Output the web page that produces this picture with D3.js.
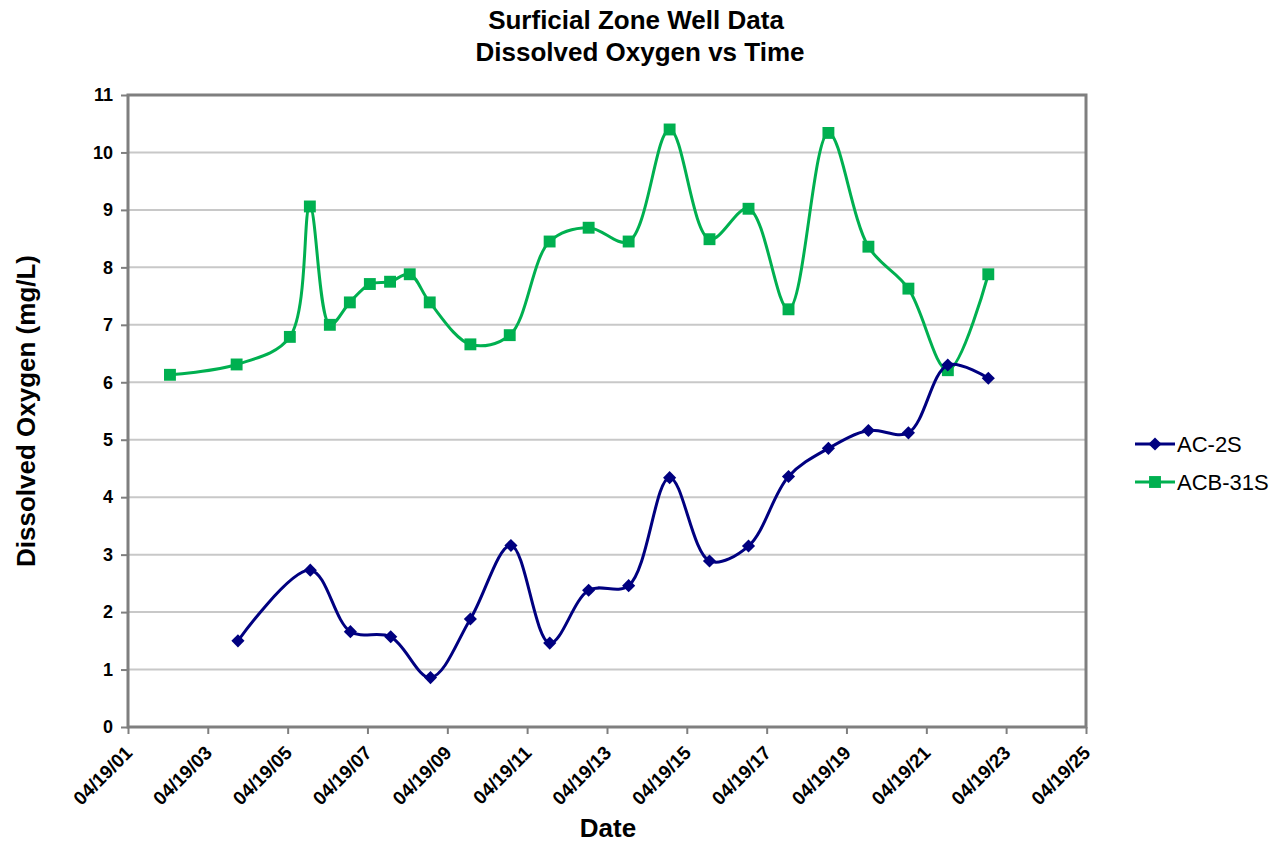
<!DOCTYPE html>
<html>
<head>
<meta charset="utf-8">
<script src="https://cdn.jsdelivr.net/npm/d3@7"></script>
<style>
  html, body { margin: 0; padding: 0; background: #fff; }
  svg { display: block; font-family: "Liberation Sans", Arial, sans-serif; }
</style>
</head>
<body>
<svg id="chart" width="1286" height="846"></svg>
<script>
// Sampling dates and dissolved oxygen readings (mg/L) for each well
const ac2sDates = [
  "2004-01-20", "2005-11-12", "2006-11-14", "2007-11-18", "2008-11-16",
  "2009-11-16", "2010-11-22", "2011-11-12", "2012-11-02", "2013-11-03",
  "2014-11-13", "2015-11-13", "2016-11-04", "2017-11-05", "2018-11-05",
  "2019-11-06", "2020-11-06", "2021-11-01", "2022-11-07"
];
const ac2sValues = [
  1.50, 2.73, 1.66, 1.57, 0.86,
  1.88, 3.16, 1.46, 2.38, 2.46,
  4.34, 2.89, 3.15, 4.36, 4.85,
  5.16, 5.12, 6.30, 6.07
];

const acb31sDates = [
  "2002-05-08", "2004-01-08", "2005-05-09", "2005-11-08", "2006-05-10",
  "2006-11-09", "2007-05-11", "2007-11-12", "2008-05-10", "2008-11-09",
  "2009-11-16", "2010-11-11", "2011-11-11", "2012-11-02", "2013-11-03",
  "2014-11-13", "2015-11-13", "2016-11-04", "2017-11-05", "2018-11-05",
  "2019-11-06", "2020-11-06", "2021-11-02", "2022-11-07"
];
const acb31sValues = [
  6.13, 6.31, 6.79, 9.06, 7.00,
  7.39, 7.71, 7.75, 7.88, 7.39,
  6.66, 6.82, 8.45, 8.69, 8.45,
  10.40, 8.49, 9.02, 7.27, 10.34,
  8.36, 7.63, 6.21, 7.88
];

// Axis ticks: every two years on 19 April, whole mg/L on the value axis
const xTickDates = [
  "2001-04-19", "2003-04-19", "2005-04-19", "2007-04-19", "2009-04-19",
  "2011-04-19", "2013-04-19", "2015-04-19", "2017-04-19", "2019-04-19",
  "2021-04-19", "2023-04-19", "2025-04-19"
];
const yTicks = [0, 1, 2, 3, 4, 5, 6, 7, 8, 9, 10, 11];

const seriesNames = ["AC-2S", "ACB-31S"];
const seriesColors = ["#000080", "#00b050"];

const parse = d3.utcParse("%Y-%m-%d");
const fmt = d3.utcFormat("%m/%d/%y");

const series = [
  { name: seriesNames[0], color: seriesColors[0], marker: "diamond",
    points: ac2sDates.map((d, i) => ({ date: parse(d), value: ac2sValues[i] })) },
  { name: seriesNames[1], color: seriesColors[1], marker: "square",
    points: acb31sDates.map((d, i) => ({ date: parse(d), value: acb31sValues[i] })) }
];

const plot = { left: 128, top: 95, right: 1086, bottom: 727 };

const svg = d3.select("#chart");

const x = d3.scaleUtc()
  .domain([parse(xTickDates[0]), parse(xTickDates[xTickDates.length - 1])])
  .range([plot.left, plot.right]);
const y = d3.scaleLinear()
  .domain([0, 11])
  .range([plot.bottom, plot.top]);

// Titles
const title = svg.append("g").attr("font-weight", "bold").attr("font-size", 26)
  .attr("text-anchor", "middle").attr("fill", "#000");
title.append("text").attr("x", 636).attr("y", 29).text("Surficial Zone Well Data");
title.append("text").attr("x", 640).attr("y", 61).text("Dissolved Oxygen vs Time");

// Horizontal gridlines
svg.append("g")
  .selectAll("line")
  .data(yTicks.filter(v => v > 0 && v < 11))
  .join("line")
  .attr("x1", plot.left).attr("x2", plot.right)
  .attr("y1", d => y(d)).attr("y2", d => y(d))
  .attr("stroke", "#c8c8c8").attr("stroke-width", 2);

// Value axis
const yAxis = svg.append("g")
  .attr("transform", `translate(${plot.left},0)`)
  .call(d3.axisLeft(y).tickValues(yTicks).tickSize(7).tickSizeOuter(0).tickPadding(8));
yAxis.select(".domain").remove();
yAxis.selectAll(".tick line").attr("stroke", "#7f7f7f").attr("stroke-width", 2);
yAxis.selectAll(".tick text")
  .attr("font-family", "Liberation Sans, Arial, sans-serif")
  .attr("font-size", 18).attr("font-weight", "bold").attr("fill", "#000");

// Date axis
const xAxis = svg.append("g")
  .attr("transform", `translate(0,${plot.bottom})`)
  .call(d3.axisBottom(x).tickValues(xTickDates.map(parse)).tickFormat(fmt)
    .tickSize(7).tickSizeOuter(0));
xAxis.select(".domain").remove();
xAxis.selectAll(".tick line").attr("stroke", "#7f7f7f").attr("stroke-width", 2);
xAxis.selectAll(".tick text")
  .attr("font-family", "Liberation Sans, Arial, sans-serif")
  .attr("font-size", 19).attr("font-weight", "bold").attr("fill", "#000")
  .attr("text-anchor", "end")
  .attr("x", 0).attr("y", 0).attr("dy", null)
  .attr("transform", "translate(5,27) rotate(-45)");

// Plot border
svg.append("rect")
  .attr("x", plot.left).attr("y", plot.top)
  .attr("width", plot.right - plot.left).attr("height", plot.bottom - plot.top)
  .attr("fill", "none").attr("stroke", "#7f7f7f").attr("stroke-width", 3);

// Axis titles
svg.append("text")
  .attr("transform", `translate(35,${(plot.top + plot.bottom) / 2}) rotate(-90)`)
  .attr("text-anchor", "middle").attr("font-size", 26).attr("font-weight", "bold")
  .text("Dissolved Oxygen (mg/L)");
svg.append("text")
  .attr("x", 608).attr("y", 837)
  .attr("text-anchor", "middle").attr("font-size", 26).attr("font-weight", "bold")
  .text("Date");

// Smoothed lines
const line = d3.line()
  .x(d => x(d.date)).y(d => y(d.value))
  .curve(d3.curveCatmullRom.alpha(0.5));

const symbolFor = m => m === "diamond"
  ? d3.symbol().type(d3.symbolDiamond2).size(110)
  : d3.symbol().type(d3.symbolSquare2).size(180);

// Draw the green series first so the navy series sits on top where they cross
[series[1], series[0]].forEach(s => {
  const g = svg.append("g");
  g.append("path")
    .datum(s.points)
    .attr("d", line)
    .attr("fill", "none").attr("stroke", s.color).attr("stroke-width", 3)
    .attr("stroke-linejoin", "round");
  g.selectAll("path.mark")
    .data(s.points)
    .join("path")
    .attr("class", "mark")
    .attr("transform", d => `translate(${x(d.date)},${y(d.value)})`)
    .attr("d", symbolFor(s.marker))
    .attr("fill", s.color);
});

// Legend
const legend = svg.append("g").attr("transform", "translate(1135,444)");
series.forEach((s, i) => {
  const row = legend.append("g").attr("transform", `translate(0,${i * 38})`);
  row.append("line").attr("x1", 0).attr("x2", 40).attr("y1", 0).attr("y2", 0)
    .attr("stroke", s.color).attr("stroke-width", 3);
  row.append("path").attr("transform", "translate(20,0)")
    .attr("d", symbolFor(s.marker)).attr("fill", s.color);
  row.append("text").attr("x", 42).attr("y", 0).attr("dy", "0.36em")
    .attr("font-size", 22).attr("fill", "#000").text(s.name);
});
</script>
</body>
</html>
